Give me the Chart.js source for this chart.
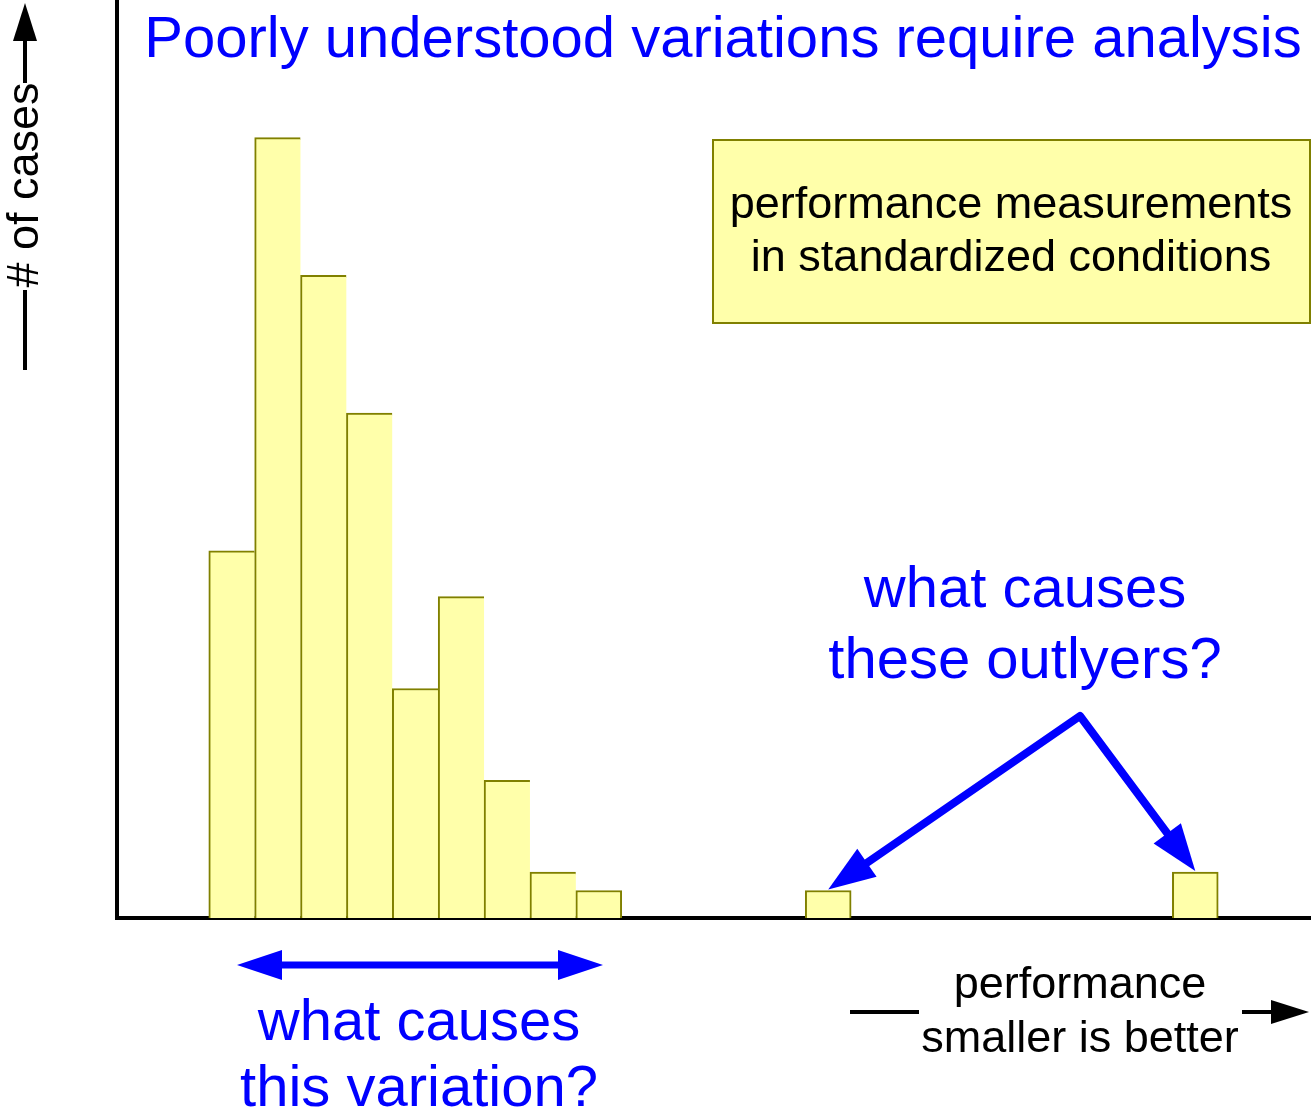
<!DOCTYPE html>
<html>
<head>
<meta charset="utf-8">
<title>Poorly understood variations require analysis</title>
<script src="https://cdn.jsdelivr.net/npm/chart.js@4.4.0/dist/chart.umd.min.js"></script>
<style>
  body{margin:0;background:#fff;}
  .wrap{width:1313px;height:1119px;position:relative;}
</style>
</head>
<body>
<div class="wrap"><canvas id="chart"></canvas></div>
<script>
// 資料 - histogram bins (performance, left = better), one bar per bin
const bins = ['0','1','2','3','4','5','6','7','8','9','10','11','12',
              '13','14','15','16','17','18','19','20','21','22','23','24','25']
const counts = [null,null,40,85,70,55,25,35,15,5,3,null,null,
                null,null,3,null,null,null,null,null,null,null,5,null,null]
const yMax = 100
const outlierBins = [15,23]   // bins the blue arrows point at

// texts
const titleText = 'Poorly understood variations require analysis'
const boxLines = ['performance measurements','in standardized conditions']
const outlierLines = ['what causes','these outlyers?']
const variationLines = ['what causes','this variation?']
const xLabelLines = ['performance','smaller is better']
const yLabel = '# of cases'

const FONT = "'Liberation Sans', Arial, sans-serif"
const BLUE = '#0000ff'

// arrow helper: line + filled triangle head
function arrowHead(ctx, fx, fy, tx, ty, len, half){
  const a = Math.atan2(ty - fy, tx - fx)
  const bx = tx - Math.cos(a) * len
  const by = ty - Math.sin(a) * len
  ctx.beginPath()
  ctx.moveTo(tx, ty)
  ctx.lineTo(bx + Math.sin(a) * half, by - Math.cos(a) * half)
  ctx.lineTo(bx - Math.sin(a) * half, by + Math.cos(a) * half)
  ctx.closePath()
  ctx.fill()
  return [tx - Math.cos(a) * (len - 2), ty - Math.sin(a) * (len - 2)]
}

function lines(ctx, arr, x, y0, step){
  arr.forEach((t, i) => ctx.fillText(t, x, y0 + i * step))
}

const notes = {
  id: 'notes',
  afterDraw(chart){
    const ctx = chart.ctx
    const xs = chart.scales.x
    const ys = chart.scales.y
    ctx.save()
    ctx.textAlign = 'center'
    ctx.textBaseline = 'alphabetic'

    // title
    ctx.fillStyle = BLUE
    ctx.font = `58px ${FONT}`
    ctx.fillText(titleText, 723, 57)

    // yellow box
    ctx.fillStyle = '#ffffaa'
    ctx.fillRect(713, 140, 597, 183)
    ctx.strokeStyle = '#808000'
    ctx.lineWidth = 2
    ctx.strokeRect(713, 140, 597, 183)
    ctx.fillStyle = '#000'
    ctx.font = `45px ${FONT}`
    lines(ctx, boxLines, 1011, 218, 53)

    // outlier question + arrows to outlier bars
    ctx.fillStyle = BLUE
    ctx.strokeStyle = BLUE
    ctx.font = `58px ${FONT}`
    lines(ctx, outlierLines, 1025, 607, 71)
    const apex = [1080, 716]
    const tips = outlierBins.map(b => [xs.getPixelForValue(b), ys.getPixelForValue(counts[b]) - 1])
    const ends = tips.map(t => arrowHead(ctx, apex[0], apex[1], t[0], t[1], 47, 17))
    ctx.lineWidth = 8
    ctx.lineJoin = 'round'
    ctx.beginPath()
    ctx.moveTo(ends[0][0], ends[0][1])
    ctx.lineTo(apex[0], apex[1])
    ctx.lineTo(ends[1][0], ends[1][1])
    ctx.stroke()

    // double arrow under main group
    const l = arrowHead(ctx, 603, 965, 237, 965, 45, 15)
    const r = arrowHead(ctx, 237, 965, 603, 965, 45, 15)
    ctx.lineWidth = 7
    ctx.beginPath()
    ctx.moveTo(l[0], 965)
    ctx.lineTo(r[0], 965)
    ctx.stroke()
    lines(ctx, variationLines, 419, 1040, 66)

    // x axis label
    ctx.fillStyle = '#000'
    ctx.strokeStyle = '#000'
    ctx.font = `45px ${FONT}`
    lines(ctx, xLabelLines, 1080, 998, 54)
    ctx.lineWidth = 4
    ctx.beginPath()
    ctx.moveTo(850, 1012)
    ctx.lineTo(919, 1012)
    ctx.stroke()
    const xa = arrowHead(ctx, 1242, 1012, 1309, 1012, 38, 12)
    ctx.beginPath()
    ctx.moveTo(1242, 1012)
    ctx.lineTo(xa[0], 1012)
    ctx.stroke()

    // y axis label (rotated)
    ctx.save()
    ctx.translate(38, 185)
    ctx.rotate(-Math.PI / 2)
    ctx.fillText(yLabel, 0, 0)
    ctx.restore()
    ctx.beginPath()
    ctx.moveTo(25, 370)
    ctx.lineTo(25, 290)
    ctx.stroke()
    const ya = arrowHead(ctx, 25, 83, 25, 3, 38, 12)
    ctx.beginPath()
    ctx.moveTo(25, 83)
    ctx.lineTo(25, ya[1])
    ctx.stroke()

    ctx.restore()
  }
}

const ctx = document.getElementById('chart').getContext('2d')
const myChart = new Chart(ctx, {
  type: 'bar',
  data: {
    labels: bins,
    datasets: [{
      data: counts,
      backgroundColor: '#ffffaa',
      borderColor: '#808000',
      // shared edges between touching bars only drawn once
      borderWidth: (c) => {
        const i = c.dataIndex
        return {top: 2, left: 2, right: counts[i + 1] ? 0 : 2, bottom: 0}
      },
      borderSkipped: 'start',
      barPercentage: 1,
      categoryPercentage: 1
    }]
  },
  options: {
    responsive: true,
    maintainAspectRatio: false,
    animation: false,
    layout: { padding: { left: 117, right: 3, top: 0, bottom: 201 } },
    plugins: {
      legend: { display: false },
      tooltip: { enabled: false }
    },
    scales: {
      x: {
        ticks: { display: false },
        grid: { display: false, drawTicks: false },
        border: { display: true, color: '#000', width: 4 }
      },
      y: {
        min: 0,
        max: yMax,
        ticks: { display: false },
        grid: { display: false, drawTicks: false },
        border: { display: true, color: '#000', width: 4 }
      }
    }
  },
  plugins: [notes]
})
</script>
</body>
</html>
